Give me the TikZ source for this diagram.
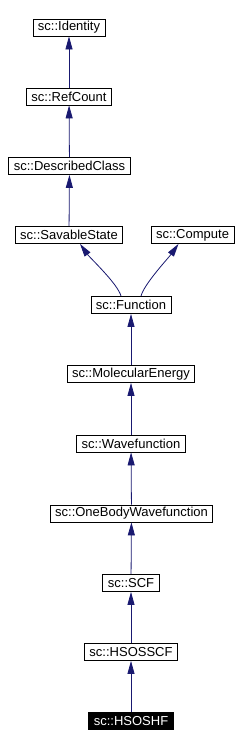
\documentclass[tikz,border=0pt]{standalone}
\usepackage{fontspec}
\setmainfont{Liberation Sans}
\usetikzlibrary{arrows.meta}
\definecolor{edgeblue}{HTML}{191970}
\tikzset{
  cls/.style={draw,fill=white,line width=.8pt,inner xsep=5pt,inner ysep=1pt,
    minimum height=17pt,font=\fontsize{13}{14}\selectfont},
  thiscls/.style={cls,fill=black,text=white},
  inh/.style={edgeblue,line width=.8pt,-{Triangle[length=13pt,width=7pt]}}
}

\begin{document}
\begin{tikzpicture}[x=1pt,y=-1pt]
  \useasboundingbox (0,0) rectangle (240,748);
  \node[cls] (ident) at (69,27.5) {sc::Identity};
  \node[cls] (refc) at (69,96.5) {sc::RefCount};
  \node[cls] (descr) at (69.5,166) {sc::DescribedClass};
  \node[cls] (savst) at (69,235) {sc::SavableState};
  \node[cls] (comp) at (192.5,235) {sc::Compute};
  \node[cls] (func) at (131,305) {sc::Function};
  \node[cls] (molen) at (131,374) {sc::MolecularEnergy};
  \node[cls] (wfn) at (131,443.5) {sc::Wavefunction};
  \node[cls] (obwfn) at (131.5,513.5) {sc::OneBodyWavefunction};
  \node[cls] (scf) at (131,583) {sc::SCF};
  \node[cls] (hsosscf) at (131,652) {sc::HSOSSCF};
  \node[thiscls] (hsoshf) at (131,721) {sc::HSOSHF};
  \draw[inh] (refc) -- (ident);
  \draw[inh] (descr) -- (refc);
  \draw[inh] (savst) -- (descr);
  \draw[inh] ([xshift=-10pt]func.north) .. controls +(-3,-12) and +(10,14) .. ([xshift=11pt]savst.south);
  \draw[inh] ([xshift=10pt]func.north) .. controls +(3,-12) and +(-10,14) .. ([xshift=-14pt]comp.south);
  \draw[inh] (molen) -- (func);
  \draw[inh] (wfn) -- (molen);
  \draw[inh] (obwfn) -- (wfn);
  \draw[inh] (scf) -- (obwfn);
  \draw[inh] (hsosscf) -- (scf);
  \draw[inh] (hsoshf) -- (hsosscf);
\end{tikzpicture}
\end{document}
